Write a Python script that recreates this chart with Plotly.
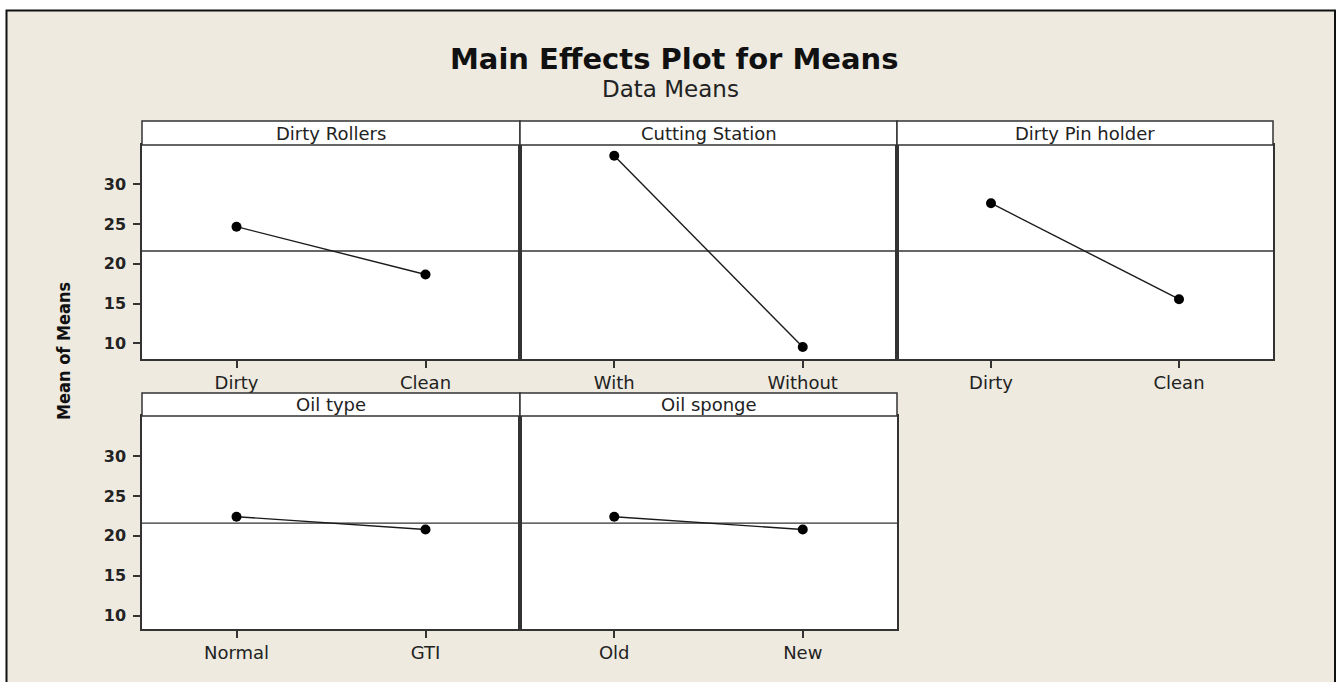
import plotly.graph_objects as go

# ---- data ----
factors = ["Dirty Rollers", "Cutting Station", "Dirty Pin holder", "Oil type", "Oil sponge"]
levels = [["Dirty", "Clean"], ["With", "Without"], ["Dirty", "Clean"], ["Normal", "GTI"], ["Old", "New"]]
means = [[24.65, 18.65], [33.55, 9.55], [27.6, 15.55], [22.4, 20.8], [22.4, 20.8]]
grand_mean = 21.6
y_ticks = [10, 15, 20, 25, 30]

W, H = 1341, 682
def px(x): return x / W
def py(y): return 1 - y / H

# panel layout in pixels: (x0, x1) and (plot_top, plot_bottom, strip_top)
cols = [(142, 520), (520, 897), (897, 1273)]
rows = [(145, 359, 121), (416, 629, 393)]
yranges = [[8.05, 34.9], [8.35, 35.0]]
positions = [(0, 0), (0, 1), (0, 2), (1, 0), (1, 1)]

FONT = "DejaVu Sans"
TXT = "#222222"
LINE = "#333333"
BG = "#EEEAE0"

fig = go.Figure()
layout = dict(
    width=W, height=H, margin=dict(l=0, r=0, t=0, b=0),
    paper_bgcolor=BG, plot_bgcolor="white", showlegend=False,
    font=dict(family=FONT, color=TXT), hovermode=False,
)
# white area outside the frame + the frame itself
shapes = [
    dict(type="rect", xref="paper", yref="paper", x0=-0.01, x1=1.01, y0=py(10), y1=1.01,
         fillcolor="white", line=dict(width=0), layer="above"),
    dict(type="rect", xref="paper", yref="paper", x0=-0.01, x1=px(6), y0=-0.01, y1=1.01,
         fillcolor="white", line=dict(width=0), layer="above"),
    dict(type="rect", xref="paper", yref="paper", x0=px(1336), x1=1.01, y0=-0.01, y1=1.01,
         fillcolor="white", line=dict(width=0), layer="above"),
    dict(type="rect", xref="paper", yref="paper", x0=px(6.5), x1=px(1335), y0=py(10.5), y1=-0.1,
         fillcolor="rgba(0,0,0,0)", line=dict(color="#111111", width=2), layer="above"),
]
annotations = []

for i, (name, lev, m) in enumerate(zip(factors, levels, means)):
    r, c = positions[i]
    x0, x1 = cols[c]
    top, bot, stop = rows[r]
    sfx = "" if i == 0 else str(i + 1)
    xa, ya = "x" + sfx, "y" + sfx
    fig.add_trace(go.Scatter(
        x=[0, 1], y=m, mode="lines+markers", xaxis=xa, yaxis=ya,
        line=dict(color="#1a1a1a", width=1.4),
        marker=dict(color="black", size=10),
    ))
    layout["xaxis" + sfx] = dict(
        domain=[px(x0), px(x1)], anchor=ya, range=[-0.5, 1.5],
        tickvals=[0, 1], ticktext=lev, ticks="outside", ticklen=7, tickwidth=1.5, tickcolor=LINE,
        showline=True, linecolor=LINE, linewidth=1.5, mirror=True, showgrid=False, zeroline=False,
        tickfont=dict(family=FONT, size=18, color=TXT), fixedrange=True,
    )
    ydict = dict(
        domain=[py(bot), py(top)], anchor=xa, range=yranges[r],
        showline=True, linecolor=LINE, linewidth=1.5, mirror=True, showgrid=False, zeroline=False,
        fixedrange=True,
    )
    if c == 0:
        ydict.update(tickvals=y_ticks, ticktext=["<b>%d</b>" % v for v in y_ticks],
                     ticks="outside", ticklen=7, tickwidth=1.5, tickcolor=LINE,
                     ticklabelstandoff=4, tickfont=dict(family=FONT, size=16, color=TXT))
    else:
        ydict.update(showticklabels=False, ticks="")
    layout["yaxis" + sfx] = ydict
    # reference line at the grand mean
    shapes.append(dict(type="line", xref=xa + " domain", yref=ya, x0=0, x1=1, y0=grand_mean, y1=grand_mean,
                       line=dict(color=LINE, width=1.3), layer="below"))
    # strip header
    shapes.append(dict(type="rect", xref="paper", yref="paper", x0=px(x0), x1=px(x1), y0=py(top), y1=py(stop),
                       fillcolor="white", line=dict(color=LINE, width=1.5)))
    annotations.append(dict(text=name, xref="paper", yref="paper", x=px((x0 + x1) / 2), y=py((top + stop) / 2),
                            showarrow=False, xanchor="center", yanchor="middle",
                            font=dict(family=FONT, size=18, color=TXT)))

annotations += [
    dict(text="<b>Main Effects Plot for Means</b>", xref="paper", yref="paper", x=px(674), y=py(59),
         showarrow=False, xanchor="center", yanchor="middle", font=dict(family=FONT, size=29, color="#111111")),
    dict(text="Data Means", xref="paper", yref="paper", x=px(670), y=py(89),
         showarrow=False, xanchor="center", yanchor="middle", font=dict(family=FONT, size=23, color=TXT)),
    dict(text="<b>Mean of Means</b>", xref="paper", yref="paper", x=px(63), y=py(351), textangle=-90,
         showarrow=False, xanchor="center", yanchor="middle",
         font=dict(family="DejaVu Sans Condensed, DejaVu Sans", size=18, color="#111111")),
]
layout["shapes"] = shapes
layout["annotations"] = annotations
fig.update_layout(**layout)
fig.write_html("out.html", config={"displayModeBar": False},
               post_script="document.body.style.margin='0';document.body.style.overflow='hidden';")
